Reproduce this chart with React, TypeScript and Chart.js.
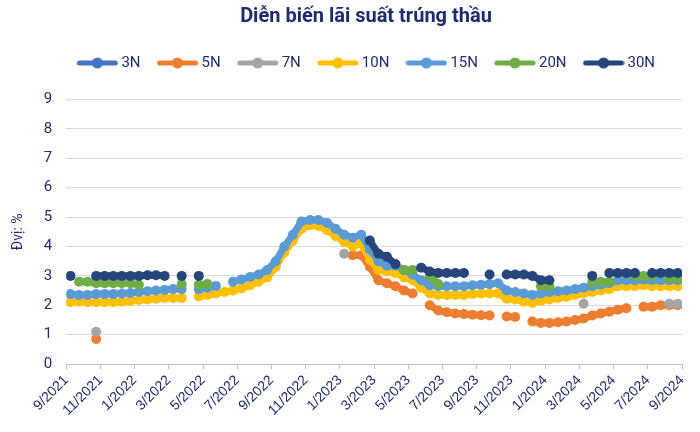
import React, { useEffect, useRef } from 'react';
import Chart from 'chart.js/auto';

const seriesNames = ['3N', '5N', '7N', '10N', '15N', '20N', '30N'];
const seriesColors = ['#4472c4', '#ed7d31', '#a5a5a5', '#ffc000', '#5b9bd5', '#70ad47', '#26457a'];
const navy = '#1f2c6b';

// x = months since 9/2021, one value every half month
const months = Array.from({ length: 72 }, (_, i) => i / 2 + 0.25);
const tickLabels = [
  '9/2021', '11/2021', '1/2022', '3/2022', '5/2022', '7/2022', '9/2022', '11/2022', '1/2023', '3/2023',
  '5/2023', '7/2023', '9/2023', '11/2023', '1/2024', '3/2024', '5/2024', '7/2024', '9/2024',
];

const _ = null;
const rate3N: (number | null)[] = [];
const rate5N = [
  _, _, _, 0.85, _, _, _, _, _, _, _, _,
  _, _, _, _, _, _, _, _, _, _, _, _,
  _, _, _, _, _, _, _, _, _, 3.7, 3.7, 3.3,
  2.85, 2.75, 2.65, 2.5, 2.4, _, 2.0, 1.82, 1.76, 1.72, 1.7, 1.68,
  1.66, 1.65, _, 1.62, 1.6, _, 1.45, 1.4, 1.4, 1.42, 1.45, 1.5,
  1.55, 1.65, 1.72, 1.78, 1.85, 1.9, _, 1.95, 1.95, 2.0, 2.0, 2.0,
];
const rate7N = [
  _, _, _, 1.1, _, _, _, _, _, _, _, _,
  _, _, _, _, _, _, _, _, _, _, _, _,
  _, _, _, _, _, _, _, _, 3.75, _, _, _,
  _, _, _, _, _, _, _, _, _, _, _, _,
  _, _, _, _, _, _, _, _, _, _, _, _,
  2.05, _, _, _, _, _, _, _, _, _, 2.05, 2.05,
];
const rate10N = [
  2.1, 2.12, 2.1, 2.1, 2.1, 2.1, 2.12, 2.15, 2.18, 2.2, 2.22, 2.25,
  2.25, 2.25, _, 2.3, 2.35, 2.4, 2.45, 2.5, 2.58, 2.68, 2.8, 2.95,
  3.3, 3.8, 4.2, 4.6, 4.72, 4.7, 4.55, 4.35, 4.15, 4.0, 4.1, 3.55,
  3.2, 3.15, 3.1, 2.95, 2.85, 2.6, 2.4, 2.35, 2.35, 2.35, 2.35, 2.38,
  2.4, 2.4, 2.4, 2.22, 2.2, 2.12, 2.08, 2.15, 2.2, 2.25, 2.28, 2.35,
  2.4, 2.45, 2.5, 2.55, 2.65, 2.65, 2.65, 2.68, 2.65, 2.65, 2.65, 2.65,
];
const rate15N = [
  2.38, 2.35, 2.35, 2.38, 2.38, 2.38, 2.4, 2.42, 2.45, 2.48, 2.5, 2.52,
  2.55, 2.55, _, 2.55, 2.6, 2.66, _, 2.8, 2.88, 2.96, 3.05, 3.2,
  3.5, 4.0, 4.4, 4.85, 4.9, 4.9, 4.8, 4.6, 4.4, 4.3, 4.4, 3.9,
  3.5, 3.35, 3.35, 3.2, 3.05, 2.85, 2.68, 2.65, 2.65, 2.65, 2.65, 2.68,
  2.7, 2.72, 2.75, 2.5, 2.45, 2.4, 2.35, 2.4, 2.45, 2.48, 2.5, 2.55,
  2.6, 2.65, 2.7, 2.75, 2.85, 2.85, 2.85, 2.88, 2.85, 2.85, 2.85, 2.85,
];
const rate20N = [
  _, 2.8, 2.8, 2.75, 2.75, 2.75, 2.75, 2.75, 2.7, _, _, _,
  _, 2.72, _, 2.7, 2.72, _, _, _, _, _, _, _,
  _, _, _, _, _, _, _, _, _, _, _, _,
  _, _, _, 3.2, 3.2, _, 3.0, 2.72, _, _, _, _,
  _, _, _, _, _, _, _, 2.65, 2.65, _, _, _,
  _, 2.78, 2.8, 2.8, _, _, 3.0, 3.0, 3.0, _, 2.92, 2.92,
];
const rate30N = [
  3.0, _, _, 3.0, 3.0, 3.0, 3.0, 3.0, 3.0, 3.02, 3.02, 3.0,
  _, 3.0, _, 3.0, _, _, _, _, _, _, _, _,
  _, _, _, _, _, _, _, _, _, _, _, 4.2,
  3.75, 3.65, 3.4, _, _, 3.28, 3.15, 3.1, 3.1, 3.1, 3.1, _,
  _, 3.05, _, 3.05, 3.05, 3.05, 3.0, 2.85, 2.85, _, _, _,
  _, 3.0, _, 3.1, 3.1, 3.1, 3.1, _, 3.1, 3.1, 3.1, 3.1,
];
const seriesValues = [rate3N, rate5N, rate7N, rate10N, rate15N, rate20N, rate30N];

function legendIcon(color: string) {
  const c = document.createElement('canvas');
  c.width = 42;
  c.height = 12;
  const ctx = c.getContext('2d');
  if (ctx) {
    ctx.strokeStyle = color;
    ctx.lineWidth = 5;
    ctx.lineCap = 'round';
    ctx.beginPath();
    ctx.moveTo(3, 6);
    ctx.lineTo(39, 6);
    ctx.stroke();
    ctx.fillStyle = color;
    ctx.beginPath();
    ctx.arc(21, 6, 5.5, 0, Math.PI * 2);
    ctx.fill();
  }
  return c;
}

// more room under the legend, and title + legend centred over the plot
const headerTweaks = {
  id: 'headerTweaks',
  beforeInit(chart: any) {
    const shift = (box: any, dx: number) => {
      if (!box) return;
      const draw = box.draw;
      box.draw = function (...args: any[]) {
        chart.ctx.save();
        chart.ctx.translate(dx, 0);
        draw.apply(box, args);
        chart.ctx.restore();
      };
    };
    const legend = chart.legend;
    if (legend) {
      const fit = legend.fit;
      legend.fit = function () {
        fit.call(legend);
        legend.height += 19;
      };
    }
    shift(legend, 22);
    shift(chart.titleBlock, 20);
  },
};

export default function App() {
  const canvasRef = useRef<HTMLCanvasElement>(null);

  useEffect(() => {
    if (!canvasRef.current) return;
    const icons = seriesColors.map(legendIcon);

    const chart = new Chart(canvasRef.current, {
      type: 'line',
      data: {
        datasets: seriesNames.map((name, i) => ({
          label: name,
          data: seriesValues[i].map((y, k) => ({ x: months[k], y })),
          borderColor: seriesColors[i],
          backgroundColor: seriesColors[i],
          borderWidth: 7,
          pointRadius: 5,
          pointHoverRadius: 5,
          pointBorderWidth: 0,
          tension: 0,
          spanGaps: false,
          order: seriesNames.length - 1 - i,
        })),
      },
      plugins: [headerTweaks],
      options: {
        responsive: true,
        maintainAspectRatio: false,
        animation: false,
        layout: { padding: { left: 10, right: 18, top: 2, bottom: 10 } },
        plugins: {
          tooltip: { enabled: false },
          title: {
            display: true,
            text: 'Diễn biến lãi suất trúng thầu',
            color: navy,
            font: { family: 'Roboto', size: 20, weight: 'bold' },
            padding: { top: 3, bottom: 6 },
          },
          legend: {
            position: 'top',
            labels: {
              color: navy,
              font: { family: 'Roboto', size: 15 },
              usePointStyle: true,
              pointStyleWidth: 33,
              boxHeight: 12,
              padding: 20.5,
              sort: (a, b) => (a.datasetIndex ?? 0) - (b.datasetIndex ?? 0),
              generateLabels: (c) =>
                Chart.defaults.plugins.legend.labels
                  .generateLabels(c)
                  .map((l) => ({ ...l, pointStyle: icons[l.datasetIndex ?? 0] })),
            },
          },
        },
        scales: {
          x: {
            type: 'linear',
            min: 0,
            max: 36,
            grid: { drawOnChartArea: false, drawTicks: true, tickLength: 5, color: '#bfbfbf' },
            border: { color: '#bfbfbf' },
            ticks: {
              stepSize: 2,
              autoSkip: false,
              minRotation: 45,
              maxRotation: 45,
              color: navy,
              font: { family: 'Liberation Sans', size: 14 },
              callback: (v) => tickLabels[Number(v) / 2] ?? '',
            },
          },
          y: {
            min: 0,
            max: 9,
            grid: { color: '#d9d9d9', drawTicks: false },
            border: { display: false },
            ticks: {
              stepSize: 1,
              color: navy,
              padding: 14,
              font: { family: 'Roboto', size: 15 },
            },
            title: {
              display: true,
              text: 'Đvị: %',
              color: navy,
              font: { family: 'Roboto', size: 14 },
              padding: { top: 0, bottom: 3 },
            },
          },
        },
      },
    });

    return () => {
      chart.destroy();
    };
  }, []);

  return (
    <div style={{ position: 'fixed', left: 0, top: 0, width: 700, height: 432, background: '#fff' }}>
      <canvas ref={canvasRef}></canvas>
    </div>
  );
}
